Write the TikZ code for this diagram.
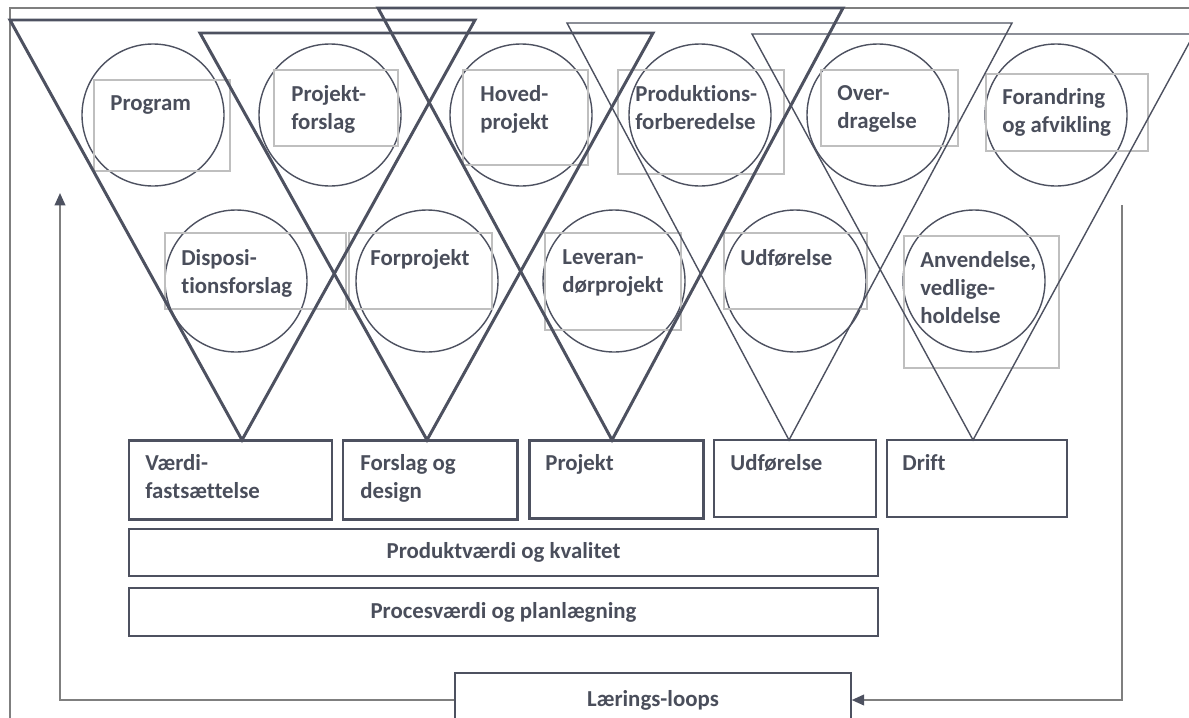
\documentclass[tikz,border=0pt]{standalone}
\usepackage{fontspec}
\setmainfont{Carlito}[Ligatures=NoCommon]
\usepackage{tikz}
\usetikzlibrary{arrows.meta}
\definecolor{ink}{HTML}{4D5160}
\definecolor{txt}{HTML}{4A4E5B}
\definecolor{lite}{HTML}{BFBFBF}
\definecolor{loopgray}{HTML}{7F7F7F}
\newlength{\pxu}\setlength{\pxu}{0.02cm}
\tikzset{
phasetri/.style={draw=ink, line width=1.7pt}, % the three heavy V's
subtri/.style={draw=ink, line width=0.8pt}, % the two light V's
stage/.style={draw=ink, line width=0.8pt}, % circles
textframe/.style={draw=lite, line width=1.1pt}, % grey frame behind a label
phasebox/.style={draw=ink, line width=1.7pt},
stagebox/.style={draw=ink, line width=0.8pt, inner sep=0pt, text=txt,
  font=\bfseries\fontsize{13}{16}\selectfont},
loopline/.style={draw=loopgray, line width=1.1pt},
looptip/.style={-{Triangle[length=7pt,width=6pt,color=ink]}},
lbl/.style={text=txt, font=\bfseries\fontsize{13}{16}\selectfont,
  align=left, inner sep=0pt, anchor=north west}
}
\begin{document}
\begin{tikzpicture}[x=0.02cm, y=-0.02cm]
    \useasboundingbox (0,0) rectangle (1189,717);
    \clip (0,0) rectangle (1189,717);
    % outer frame
    \draw [loopline] (10,730) -- (10,8) -- (1200,8);
    % upper row of circles
    \draw [stage] (153,115) circle (71);
    \draw [stage] (330,115) circle (71);
    \draw [stage] (521,115) circle (71);
    \draw [stage] (700,115) circle (71);
    \draw [stage] (878,115) circle (71);
    \draw [stage] (1056,115) circle (71);
    % lower row of circles
    \draw [stage] (236,281) circle (71);
    \draw [stage] (427,281) circle (71);
    \draw [stage] (614,281) circle (71);
    \draw [stage] (795,281) circle (71);
    \draw [stage] (974,281) circle (71);
    % grey label frames
    \draw [textframe] (94,80) rectangle (230,171);
    \draw [textframe] (274,70) rectangle (398,146);
    \draw [textframe] (463,70) rectangle (588,165);
    \draw [textframe] (618,70) rectangle (784,174);
    \draw [textframe] (821,70) rectangle (958,146);
    \draw [textframe] (986,74) rectangle (1148,151);
    \draw [textframe] (165,233) rectangle (346,309);
    \draw [textframe] (349,233) rectangle (492,309);
    \draw [textframe] (545,233) rectangle (681,330);
    \draw [textframe] (724,233) rectangle (867,309);
    \draw [textframe] (904,236) rectangle (1059,368);
    % the V's
    \draw [phasetri] (10,20) -- (475,20) -- (242,440) -- cycle;
    \draw [phasetri] (200,33) -- (653,33) -- (427,440) -- cycle;
    \draw [phasetri] (378,8) -- (843,8) -- (612,440) -- cycle;
    \draw [subtri] (567,23) -- (1012,23) -- (789,440) -- cycle;
    \draw [subtri] (752,34) -- (1194,34) -- (973,440) -- cycle;
    % labels, upper row
    \node [lbl] (tProgram) at (110,95) {Program};
    \node [lbl] (tProjforslag) at (291,85) {Projekt-\\forslag};
    \node [lbl] (tHoved) at (480,85) {Hoved-\\projekt};
    \node [lbl] (tProdforb) at (635,85) {Produktions-\\forberedelse};
    \node [lbl] (tOver) at (837,85) {Over-\\dragelse};
    \node [lbl] (tForandring) at (1002,88) {Forandring\\og afvikling};
    % labels, lower row
    \node [lbl] (tDisposi) at (181,249) {Disposi-\\tionsforslag};
    \node [lbl] (tForprojekt) at (370,249) {Forprojekt};
    \node [lbl] (tLeveran) at (562,249) {Leveran-\\dørprojekt};
    \node [lbl] (tUdf) at (740,249) {Udførelse};
    \node [lbl] (tAnvend) at (920,251) {Anvendelse,\\vedlige-\\holdelse};
    % phase boxes
    \draw [phasebox] (129,440) rectangle (332,519);
    \draw [phasebox] (343,440) rectangle (517,519);
    \draw [phasebox] (529,440) rectangle (703,518);
    \draw [stage] (714,440) rectangle (876,517);
    \draw [stage] (887,440) rectangle (1067,517);
    \node [lbl] (tVaerdi) at (145,454) {Værdi-\\fastsættelse};
    \node [lbl] (tForslag) at (360,454) {Forslag og\\design};
    \node [lbl] (tProjekt) at (545,454) {Projekt};
    \node [lbl] (tUdfoerelse) at (730,454) {Udførelse};
    \node [lbl] (tDrift) at (902,454) {Drift};
    % value bands
    \node [stagebox, minimum width=749\pxu, minimum height=47\pxu] (produkt) at (503.5,552.5) {Produktværdi og kvalitet};
    \node [stagebox, minimum width=749\pxu, minimum height=48\pxu] (proces) at (503.5,612) {Procesværdi og planlægning};
    % learning loops
    \node [stagebox, minimum width=396\pxu, minimum height=54\pxu] (loops) at (653,700) {Lærings-loops};
    \coordinate (ltop) at (60,193);
    \coordinate (rtop) at (1122,205);
    \draw [loopline, looptip] (loops.west) -| (ltop);
    \draw [loopline, looptip] (rtop) |- (loops.east);
\end{tikzpicture}
\end{document}
